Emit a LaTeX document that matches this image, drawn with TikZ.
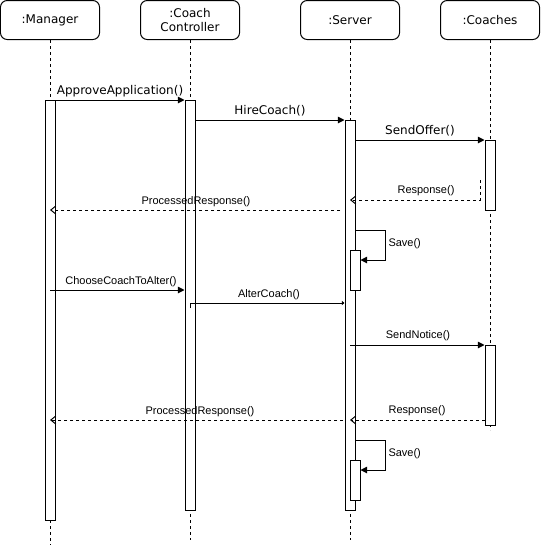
\documentclass[tikz,border=0pt]{standalone}
\usepackage{fontspec}
\setmainfont{DejaVu Sans}
\newfontfamily\edgefont{Liberation Sans}
\usetikzlibrary{arrows.meta}
% one drawing unit = one screen pixel
\newcommand\pxu{0.75pt}
\begin{document}
\begin{tikzpicture}[x=0.75pt,y=-0.75pt,line width=0.75pt,
  head/.style={draw,rounded corners=5pt,minimum width=99*\pxu,minimum height=39*\pxu,
    inner sep=0,align=center,font=\fontsize{9}{10.5}\selectfont},
  life/.style={dash pattern=on 2.25pt off 2.25pt},
  act/.style={draw,fill=white,minimum width=10*\pxu,inner sep=0,anchor=north},
  call/.style={-{Triangle[length=5pt,width=5pt]}},
  tinycall/.style={-{Triangle[length=2pt,width=3pt]}},
  reply/.style={dash pattern=on 2.25pt off 2.25pt,-{Straight Barb[length=3.75pt,width=6pt]}},
  biglbl/.style={inner sep=0,font=\fontsize{9}{10.8}\selectfont},
  smalllbl/.style={inner sep=0,font=\edgefont\fontsize{8.25}{9.9}\selectfont},
]
\useasboundingbox (0,0) rectangle (541,551);
\fill[white] (0,0) rectangle (541,551);

% participants
\node[head] (hM) at (50,20) {:Manager};
\node[head] (hC) at (190,20) {:Coach\\Controller};
\node[head] (hS) at (350,20) {:Server};
\node[head] (hK) at (490,20) {:Coaches};

% lifelines
\coordinate (eM) at (50,545);
\coordinate (eC) at (190,540);
\coordinate (eS) at (350,540);
\coordinate (eK) at (490,430);
\draw[life] (hM.south) -- (eM);
\draw[life] (hC.south) -- (eC);
\draw[life] (hS.south) -- (eS);
\draw[life] (hK.south) -- (eK);

% activation bars
\node[act,minimum height=420*\pxu] (aM) at (50,100) {};
\node[act,minimum height=410*\pxu] (aC) at (190,100) {};
\node[act,minimum height=390*\pxu] (aS) at (350,120) {};
\node[act,minimum height=70*\pxu] (aK1) at (490,140) {};
\node[act,minimum height=80*\pxu] (aK2) at (490,345) {};
\node[act,minimum height=40*\pxu] (aS1) at (355,250) {};
\node[act,minimum height=40*\pxu] (aS2) at (355,460) {};

% ApproveApplication
\draw[call] (aM.north east) -- (aC.north west);
\node[biglbl] (lApprove) at (120,90.7) {ApproveApplication()};

% HireCoach
\draw[call] (aC.east |- 0,120) -- (aS.north west);
\node[biglbl] (lHire) at (270,111) {HireCoach()};

% SendOffer
\draw[call] (aS.east |- 0,140) -- (aK1.north west);
\node[biglbl] (lOffer) at (420,130.5) {SendOffer()};

% Response from coaches
\coordinate (r1) at (480,180);
\draw[reply] (r1) -- (480,200) -- (aS.center |- 0,200);
\node[smalllbl] (lResp1) at (426,191) {Response()};

% ProcessedResponse back to manager
\coordinate (p1) at (340,210);
\draw[reply] (p1) -- (aM.center |- 0,210);
\node[smalllbl] (lProc1) at (196,201.5) {ProcessedResponse()};

% Save (first)
\draw[call] (aS.east |- 0,230) -- (385,230) -- (385,260) -- (aS1.east |- 0,260);
\node[smalllbl,anchor=west] (lSave1) at (388,244) {Save()};

% ChooseCoachToAlter
\draw[call] (aM.center |- 0,290) -- (aC.west |- 0,290);
\node[smalllbl] (lChoose) at (121,281.5) {ChooseCoachToAlter()};

% AlterCoach
\draw[tinycall] (aC.center |- 0,308) -- (aC.center |- 0,303) -- (aS.west |- 0,303);
\node[smalllbl] (lAlter) at (269,295) {AlterCoach()};

% SendNotice
\draw[call] (aS.center |- 0,345) -- (aK2.north west);
\node[smalllbl] (lNotice) at (418,336) {SendNotice()};

% Response (second) and ProcessedResponse (second)
\draw[reply] (aK2.west |- 0,420) -- (aS.center |- 0,420);
\node[smalllbl] (lResp2) at (417,410.7) {Response()};
\coordinate (p2) at (343,420);
\draw[reply] (p2) -- (aM.center |- 0,420);
\node[smalllbl] (lProc2) at (200,411.5) {ProcessedResponse()};

% Save (second)
\draw[call] (aS.east |- 0,440) -- (385,440) -- (385,470) -- (aS2.east |- 0,470);
\node[smalllbl,anchor=west] (lSave2) at (388,454) {Save()};
\end{tikzpicture}
\end{document}
